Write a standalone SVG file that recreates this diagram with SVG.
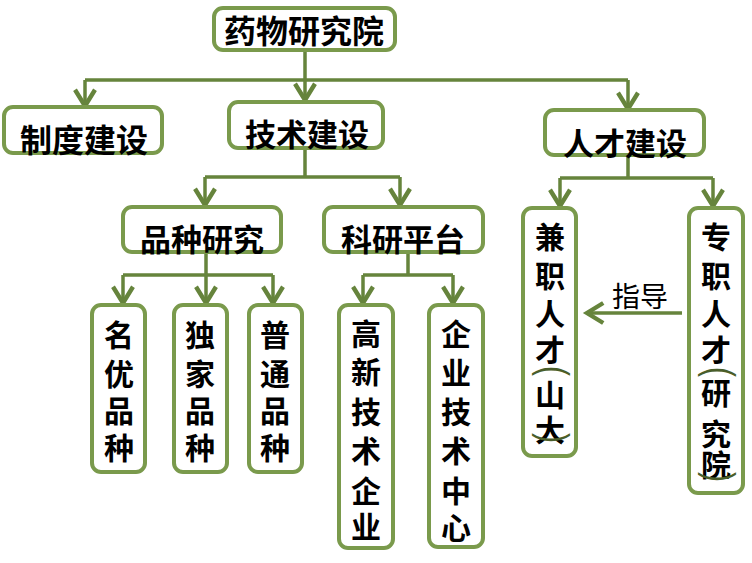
<svg xmlns="http://www.w3.org/2000/svg" width="752" height="563" viewBox="0 0 752 563">
<style>
.box{fill:#fff;stroke:#7A9A4C;stroke-width:4}
.ln{fill:none;stroke:#66843C;stroke-width:3.5}
.t{font-family:"Noto Sans CJK SC","Noto Sans",sans-serif;font-weight:bold;fill:#000;text-anchor:middle}
.h{font-size:31px}
.v{font-size:30px}
.br{font-family:"Liberation Sans",Arial,sans-serif;font-size:40px;fill:#4A5E2A;text-anchor:middle}
.lbl{font-family:"Noto Sans CJK SC",sans-serif;font-size:28px;fill:#000;text-anchor:middle}
</style>
<defs>
<marker id="ah" markerUnits="userSpaceOnUse" markerWidth="30" markerHeight="30" viewBox="-16 -12 20 24" refX="0" refY="0" orient="auto">
<path d="M-13,-8 L0,0 L-13,8" fill="none" stroke="#66843C" stroke-width="3.5" stroke-linejoin="miter"/>
</marker>
</defs>
<g id="connectors">
<path class="ln" d="M305,50 V80 M85,80 H628"/>
<path class="ln" d="M305,80 V100" marker-end="url(#ah)"/>
<path class="ln" d="M85,80 V106" marker-end="url(#ah)"/>
<path class="ln" d="M628,80 V109" marker-end="url(#ah)"/>
<path class="ln" d="M305,148 V177 M205,177 H400"/>
<path class="ln" d="M205,177 V205" marker-end="url(#ah)"/>
<path class="ln" d="M400,177 V205" marker-end="url(#ah)"/>
<path class="ln" d="M628,155 V178 M560,178 H713"/>
<path class="ln" d="M560,178 V206" marker-end="url(#ah)"/>
<path class="ln" d="M713,178 V206" marker-end="url(#ah)"/>
<path class="ln" d="M206,252 V275 M123,275 H273"/>
<path class="ln" d="M123,275 V303" marker-end="url(#ah)"/>
<path class="ln" d="M206,275 V303" marker-end="url(#ah)"/>
<path class="ln" d="M273,275 V303" marker-end="url(#ah)"/>
<path class="ln" d="M408,252 V275 M363,275 H453"/>
<path class="ln" d="M363,275 V303" marker-end="url(#ah)"/>
<path class="ln" d="M453,275 V303" marker-end="url(#ah)"/>
<path class="ln" d="M682,313 H587" marker-end="url(#ah)"/>
<text class="lbl" x="640" y="307">指导</text>
</g>
<g id="n-root"><rect class="box" x="214" y="8" width="181" height="42" rx="9"/><text class="t h" x="304" y="43" style="font-size:32px">药物研究院</text></g>
<g id="n-zhidu"><rect class="box" x="4" y="107" width="158" height="46" rx="9"/><text class="t h" x="84" y="152" style="font-size:32px">制度建设</text></g>
<g id="n-jishu"><rect class="box" x="229" y="102" width="154" height="46" rx="9"/><text class="t h" x="307" y="146">技术建设</text></g>
<g id="n-rencai"><rect class="box" x="545" y="110" width="159" height="45" rx="9"/><text class="t h" x="625" y="155">人才建设</text></g>
<g id="n-pinzhong"><rect class="box" x="123" y="207" width="158" height="45" rx="9"/><text class="t h" x="202" y="251">品种研究</text></g>
<g id="n-keyan"><rect class="box" x="324" y="207" width="159" height="45" rx="9"/><text class="t h" x="403" y="251">科研平台</text></g>
<g id="n-mingyou"><rect class="box" x="92" y="305" width="53" height="167" rx="9"/><text class="t v"><tspan x="119" y="346">名</tspan><tspan x="119" y="385">优</tspan><tspan x="119" y="422">品</tspan><tspan x="119" y="459">种</tspan></text></g>
<g id="n-dujia"><rect class="box" x="174" y="305" width="53" height="167" rx="9"/><text class="t v"><tspan x="200" y="346">独</tspan><tspan x="200" y="385">家</tspan><tspan x="200" y="422">品</tspan><tspan x="200" y="459">种</tspan></text></g>
<g id="n-putong"><rect class="box" x="249" y="305" width="53" height="167" rx="9"/><text class="t v"><tspan x="275" y="346">普</tspan><tspan x="275" y="385">通</tspan><tspan x="275" y="422">品</tspan><tspan x="275" y="459">种</tspan></text></g>
<g id="n-gaoxin"><rect class="box" x="339" y="305" width="54" height="243" rx="9"/><text class="t v"><tspan x="366" y="345">高</tspan><tspan x="366" y="383">新</tspan><tspan x="366" y="423">技</tspan><tspan x="366" y="462">术</tspan><tspan x="366" y="502">企</tspan><tspan x="366" y="538">业</tspan></text></g>
<g id="n-qiye"><rect class="box" x="429" y="305" width="54" height="242" rx="9"/><text class="t v"><tspan x="456" y="345">企</tspan><tspan x="456" y="384">业</tspan><tspan x="456" y="423">技</tspan><tspan x="456" y="462">术</tspan><tspan x="456" y="502">中</tspan><tspan x="456" y="539">心</tspan></text></g>
<g id="n-jianzhi"><rect class="box" x="523" y="208" width="53" height="248" rx="9"/><text class="t v"><tspan x="550" y="248">兼</tspan><tspan x="550" y="287">职</tspan><tspan x="550" y="325">人</tspan><tspan x="550" y="361">才</tspan><tspan x="550" y="406">山</tspan><tspan x="550" y="441">大</tspan></text><text class="br" transform="translate(550,371) rotate(90) scale(0.75,1)" x="0" y="10">(</text><text class="br" transform="translate(550,438) rotate(90) scale(0.75,1)" x="0" y="10">)</text></g>
<g id="n-zhuanzhi"><rect class="box" x="689" y="208" width="54" height="285" rx="9"/><text class="t v"><tspan x="716" y="248">专</tspan><tspan x="716" y="287">职</tspan><tspan x="716" y="325">人</tspan><tspan x="716" y="361">才</tspan><tspan x="716" y="404">研</tspan><tspan x="716" y="445">究</tspan><tspan x="716" y="476">院</tspan></text><text class="br" transform="translate(716,372) rotate(90) scale(0.75,1)" x="0" y="10">(</text><text class="br" transform="translate(716,477) rotate(90) scale(0.75,1)" x="0" y="10">)</text></g>
</svg>
